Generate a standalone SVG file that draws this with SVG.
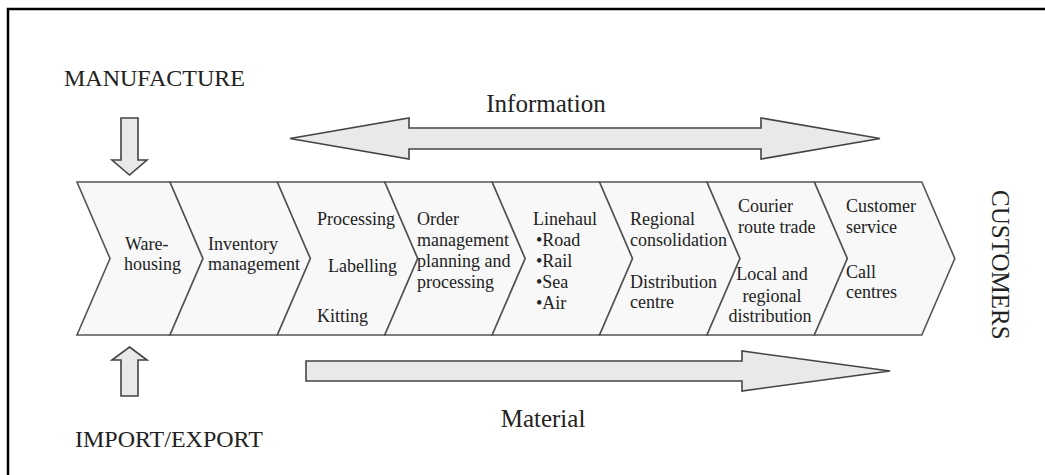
<svg xmlns="http://www.w3.org/2000/svg" width="1045" height="475" viewBox="0 0 1045 475">
<style>
text{font-family:"Liberation Serif","Times New Roman",serif;fill:#222}
.lbl{font-size:24px}
.big{font-size:25px}
.t{font-size:18px}
.chev{fill:#f8f8f8;stroke:#555;stroke-width:1.6;stroke-linejoin:miter}
.arr{fill:#e9e9e9;stroke:#444;stroke-width:1.6}
</style>
<rect width="1045" height="475" fill="#fff"/>
<path d="M8,476 V9 H1046" fill="none" stroke="#000" stroke-width="2.5"/>

<g id="connectors">
<path id="info-arrow" class="arr" d="M290,138.5 L409,118 L409,128 L761,128 L761,118 L880,138.5 L761,159 L761,149 L409,149 L409,159 Z"/>
<path id="material-arrow" class="arr" d="M306,361 L742,361 L742,351 L890,371 L742,391 L742,381 L306,381 Z"/>
<path id="manufacture-arrow" class="arr" d="M121,118 L138,118 L138,160 L147,160 L129.5,175 L112,160 L121,160 Z"/>
<path id="import-arrow" class="arr" d="M129.5,347 L147,360 L138,360 L138,396 L121,396 L121,360 L112,360 Z"/>
</g>

<g id="labels">
<text class="lbl" x="64" y="86">MANUFACTURE</text>
<text class="lbl" x="75" y="447">IMPORT/EXPORT</text>
<text class="big" x="546" y="112" text-anchor="middle">Information</text>
<text class="big" x="543" y="427" text-anchor="middle">Material</text>
<text class="big" transform="translate(992,190) rotate(90)">CUSTOMERS</text>
</g>

<g id="n1">
<path class="chev" d="M77,182 L170,182 L203,258.5 L170,335 L77,335 L110,258.5 Z"/>
<text class="t" x="125" y="250">Ware-</text>
<text class="t" x="124" y="270">housing</text>
</g>
<g id="n2">
<path class="chev" d="M170,182 L277.4,182 L310.4,258.5 L277.4,335 L170,335 L203,258.5 Z"/>
<text class="t" x="208" y="250">Inventory</text>
<text class="t" x="208" y="270">management</text>
</g>
<g id="n3">
<path class="chev" d="M277.4,182 L384.8,182 L417.8,258.5 L384.8,335 L277.4,335 L310.4,258.5 Z"/>
<text class="t" x="317" y="225">Processing</text>
<text class="t" x="328" y="272">Labelling</text>
<text class="t" x="317" y="322">Kitting</text>
</g>
<g id="n4">
<path class="chev" d="M384.8,182 L492.2,182 L525.2,258.5 L492.2,335 L384.8,335 L417.8,258.5 Z"/>
<text class="t" x="417" y="225">Order</text>
<text class="t" x="417" y="246">management</text>
<text class="t" x="417" y="267">planning and</text>
<text class="t" x="417" y="288">processing</text>
</g>
<g id="n5">
<path class="chev" d="M492.2,182 L599.6,182 L632.6,258.5 L599.6,335 L492.2,335 L525.2,258.5 Z"/>
<text class="t" x="533" y="225">Linehaul</text>
<text class="t" x="536" y="246">•Road</text>
<text class="t" x="536" y="267">•Rail</text>
<text class="t" x="536" y="288">•Sea</text>
<text class="t" x="536" y="309">•Air</text>
</g>
<g id="n6">
<path class="chev" d="M599.6,182 L707,182 L740,258.5 L707,335 L599.6,335 L632.6,258.5 Z"/>
<text class="t" x="630" y="225">Regional</text>
<text class="t" x="630" y="246">consolidation</text>
<text class="t" x="630" y="288">Distribution</text>
<text class="t" x="630" y="308">centre</text>
</g>
<g id="n7">
<path class="chev" d="M707,182 L814.4,182 L847.4,258.5 L814.4,335 L707,335 L740,258.5 Z"/>
<text class="t" x="738" y="212">Courier</text>
<text class="t" x="738" y="233">route trade</text>
<text class="t" x="772" y="280" text-anchor="middle">Local and</text>
<text class="t" x="772" y="302" text-anchor="middle">regional</text>
<text class="t" x="770" y="322" text-anchor="middle">distribution</text>
</g>
<g id="n8">
<path class="chev" d="M814.4,182 L921.8,182 L954.8,258.5 L921.8,335 L814.4,335 L847.4,258.5 Z"/>
<text class="t" x="846" y="212">Customer</text>
<text class="t" x="846" y="233">service</text>
<text class="t" x="846" y="278">Call</text>
<text class="t" x="846" y="298">centres</text>
</g>
</svg>
